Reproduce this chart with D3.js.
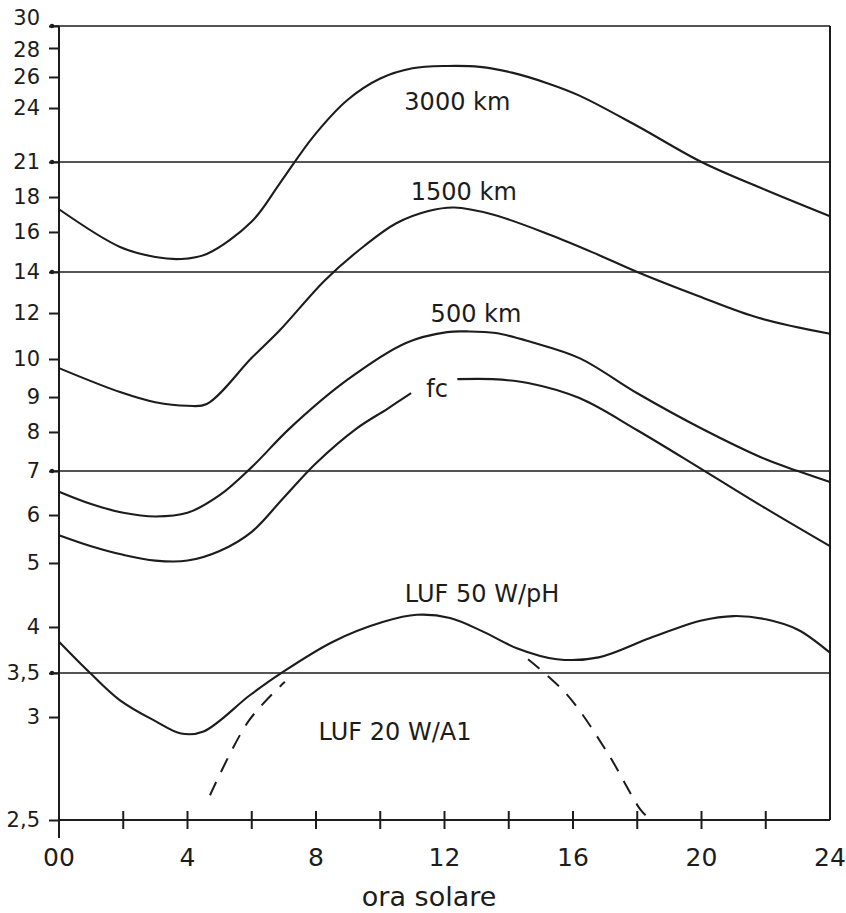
<!DOCTYPE html>
<html><head><meta charset="utf-8">
<script src="https://cdn.jsdelivr.net/npm/d3@7"></script>
<style>
body{margin:0;background:#fff}
text{font-family:"DejaVu Sans",sans-serif;fill:#1c1c1c}
</style>
</head><body>
<svg id="c" width="846" height="913"></svg>
<script>
// ---- axis definitions ----
const yTickValues = [2.5,3,3.5,4,5,6,7,8,9,10,12,14,16,18,21,24,26,28,30];
const yTickLabels = ["2,5","3","3,5","4","5","6","7","8","9","10","12","14","16","18","21","24","26","28","30"];
// printed (non-uniform, roughly logarithmic) scale: share of the plot height at each tick value
const yAxisStops = [0,0.1297,0.1851,0.2431,0.3237,0.3841,0.4395,0.4887,0.5327,0.5806,0.6385,0.6902,0.7406,0.7846,0.8287,0.8967,0.9358,0.9723,1];
const xLabelHours = [0,4,8,12,16,20,24];
const xLabelText = ["00","4","8","12","16","20","24"];
const xTickHours = [2,4,6,8,10,12,14,16,18,20,22];
const refLines = [30,21,14,7,3.5];
const xTitle = "ora solare";

// ---- series: [hour, MHz] ----
const s3000 = [[0,17.3],[1.9,15.25],[3,14.75],[3.8,14.65],[4.6,14.9],[6,16.6],[6.88,19.2],[7.91,22.4],[8.97,24.5],[10,25.9],[11,26.6],[12.08,26.76],[13.1,26.7],[14.1,26.3],[15.2,25.6],[16.2,24.8],[18,23.0],[20,21.0],[22,18.6],[24,16.9]];
const s1500 = [[0,9.76],[1.9,9.13],[3,8.85],[4,8.75],[4.6,8.8],[6,10.05],[6.88,11.26],[8.28,13.6],[9.5,15.3],[10.5,16.5],[11.5,17.2],[12.3,17.4],[13.5,17.0],[15.3,15.85],[16.8,14.85],[18,14.0],[19.9,12.83],[21.8,11.78],[24,11.1]];
const s500 = [[0,6.53],[1,6.25],[2,6.05],[3,5.97],[4,6.05],[5,6.45],[6,7.1],[7.19,8.11],[8.97,9.45],[10.8,10.7],[12.08,11.17],[12.7,11.2],[13.6,11.13],[14.7,10.74],[16.2,10.04],[18,9.1],[20,8.1],[22,7.3],[23,7.0],[24,6.75]];
const sFcLeft = [[0,5.58],[1,5.35],[2,5.17],[3,5.05],[4,5.05],[5,5.25],[6,5.65],[7,6.4],[8,7.2],[9.28,8.11],[10.2,8.65],[10.96,9.1]];
const sFcRight = [[12.4,9.47],[13.5,9.47],[14.6,9.37],[16.2,8.97],[18,8.05],[20,7.05],[22,6.15],[24,5.35]];
const sLuf50 = [[0,3.84],[0.97,3.5],[1.9,3.19],[3,2.98],[3.8,2.92],[4.5,2.93],[5.95,3.25],[6.88,3.49],[8.53,3.84],[10.1,4.08],[11.14,4.19],[12.17,4.14],[13.2,3.95],[14.25,3.77],[15.5,3.65],[16.8,3.67],[18.4,3.88],[20,4.1],[21,4.17],[22,4.12],[23,3.97],[24,3.72]];
const sLuf20Left = [[4.7,2.62],[5.9,2.98],[7.03,3.4]];
const sLuf20Right = [[14.6,3.65],[15.8,3.26],[17.06,2.83],[18.1,2.55],[18.35,2.51]];

const curveLabels = [
  {text:"3000 km", h:12.4, v:23.9},
  {text:"1500 km", h:12.6, v:17.83},
  {text:"500 km", h:12.98, v:11.6},
  {text:"fc", h:11.77, v:9.0},
  {text:"LUF 50 W/pH", h:13.17, v:4.39},
  {text:"LUF 20 W/A1", h:10.46, v:2.89}
];

// ---- layout ----
const L = 59, R = 830, T = 26, B = 820;
const svg = d3.select("#c");
const x = d3.scaleLinear().domain([0,24]).range([L,R]);
const y = d3.scaleLinear().domain(yTickValues).range(yAxisStops.map(f => B - f*(B-T)));
const ink = "#1c1c1c";

// y axis
const yAxis = svg.append("g").attr("transform",`translate(${L},0)`)
  .call(d3.axisLeft(y).tickValues(yTickValues).tickFormat((d,i)=>yTickLabels[i]).tickSize(10).tickPadding(9));
yAxis.select(".domain").remove();
yAxis.selectAll(".tick line").attr("stroke",ink).attr("stroke-width",2);
yAxis.selectAll(".tick text").attr("font-size",21).attr("font-family","DejaVu Sans").attr("fill",ink)
  .attr("dy",d => d===30 ? "-0.05em" : d===28 ? "0.42em" : "0.32em");

// frame
svg.append("line").attr("x1",L).attr("x2",L).attr("y1",T).attr("y2",B+18).attr("stroke",ink).attr("stroke-width",2);
svg.append("line").attr("x1",R).attr("x2",R).attr("y1",T).attr("y2",y(2.5)).attr("stroke",ink).attr("stroke-width",2);
svg.append("line").attr("x1",L).attr("x2",R).attr("y1",y(2.5)).attr("y2",y(2.5)).attr("stroke",ink).attr("stroke-width",1.8);

// reference lines
svg.selectAll(".ref").data(refLines).enter().append("line")
  .attr("x1",L-7).attr("x2",R).attr("y1",d=>y(d)).attr("y2",d=>y(d))
  .attr("stroke",ink).attr("stroke-width",1.6);
svg.selectAll(".dot").data(refLines).enter().append("circle")
  .attr("cx",L-7).attr("cy",d=>y(d)).attr("r",2.2).attr("fill",ink);

// x ticks
svg.selectAll(".xt").data(xTickHours).enter().append("line")
  .attr("x1",d=>x(d)).attr("x2",d=>x(d)).attr("y1",y(2.5)-9).attr("y2",y(2.5)+9)
  .attr("stroke",ink).attr("stroke-width",2);
svg.selectAll(".xl").data(xLabelHours).enter().append("text")
  .attr("x",(d)=>x(d)).attr("y",y(2.5)+46).attr("text-anchor","middle")
  .attr("font-family","Liberation Sans").attr("font-size",25).text((d,i)=>xLabelText[i]);
svg.append("text").attr("x",x(11.52)).attr("y",y(2.5)+86).attr("text-anchor","middle")
  .attr("font-family","Liberation Sans").attr("font-size",27).text(xTitle);

// curves
const line = d3.line().x(d=>x(d[0])).y(d=>y(d[1])).curve(d3.curveCatmullRom.alpha(0.5));
const solid = [s3000,s1500,s500,sFcLeft,sFcRight,sLuf50];
svg.selectAll(".curve").data(solid).enter().append("path")
  .attr("d",line).attr("fill","none").attr("stroke",ink).attr("stroke-width",2.1);
svg.selectAll(".dash").data([sLuf20Left,sLuf20Right]).enter().append("path")
  .attr("d",line).attr("fill","none").attr("stroke",ink).attr("stroke-width",2)
  .attr("stroke-dasharray","15,11");

// curve labels
svg.selectAll(".cl").data(curveLabels).enter().append("text")
  .attr("x",d=>x(d.h)).attr("y",d=>y(d.v)).attr("text-anchor","middle")
  .attr("font-size",24).text(d=>d.text);
</script>
</body></html>
